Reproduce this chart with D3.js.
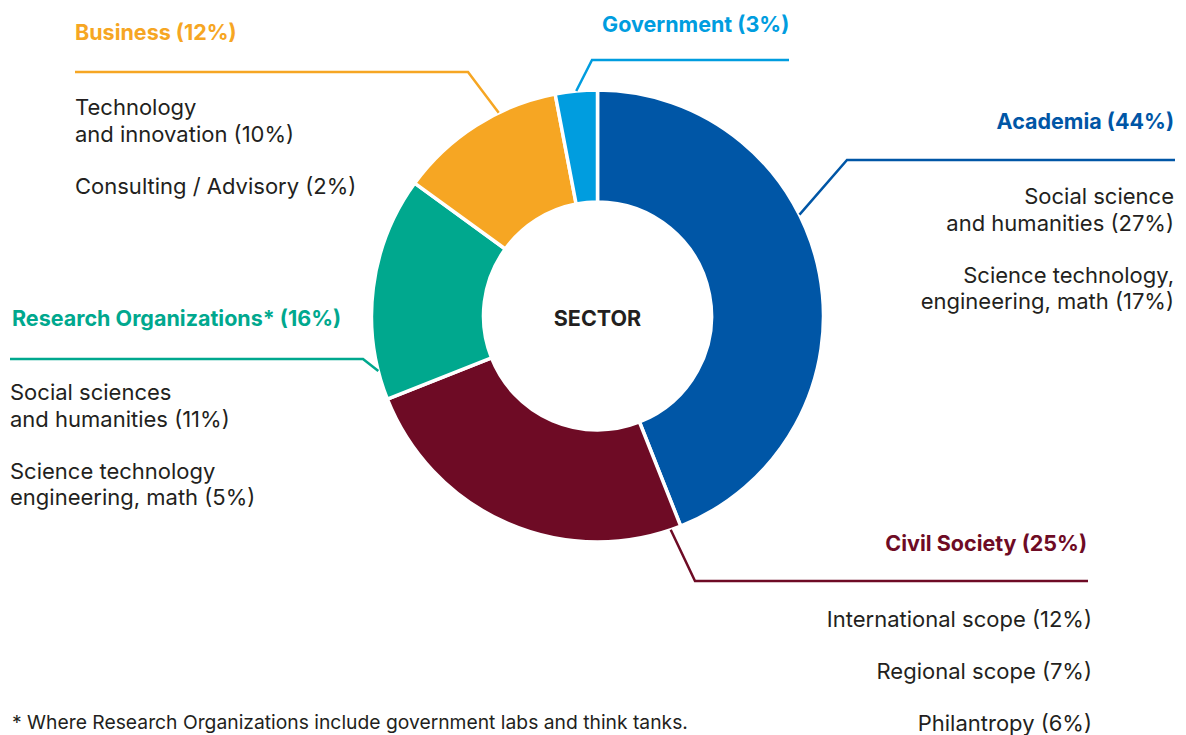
<!DOCTYPE html>
<html>
<head>
<meta charset="utf-8">
<script src="https://cdn.jsdelivr.net/npm/d3@7"></script>
<style>
	body { margin: 0; background: #fff; }
	svg text { font-family: Inter, "Noto Sans", sans-serif; }
</style>
</head>
<body>
<div id="chart"></div>
<script>
// sectors, clockwise from 12 o'clock
const sectors = ['Academia', 'Civil Society', 'Research Organizations*', 'Business', 'Government'];
const shares = [44, 25, 16, 12, 3];
const colors = ['#0056a6', '#6e0b25', '#00a88e', '#f6a623', '#009ddf'];

// sub-categories per sector (lines of text, share)
const academiaSub = [['Social science', 'and humanities (27%)'], ['Science technology,', 'engineering, math (17%)']];
const civilSub = [['International scope (12%)'], ['Regional scope (7%)'], ['Philantropy (6%)']];
const researchSub = [['Social sciences', 'and humanities (11%)'], ['Science technology', 'engineering, math (5%)']];
const businessSub = [['Technology', 'and innovation (10%)'], ['Consulting / Advisory (2%)']];
const governmentSub = [];

const footnote = '* Where Research Organizations include government labs and think tanks.';
const centerLabel = 'SECTOR';

const width = 1186;
const height = 735;
const cx = 597.5;
const cy = 316;
const outerR = 226;
const innerR = 114;
const textColor = '#231f20';

const svg = d3.select('#chart')
	.append('svg')
	.attr('width', width)
	.attr('height', height);

const pie = d3.pie().sort(null).value((d) => d);
const arcs = pie(shares);

const arc = d3.arc()
	.innerRadius(innerR)
	.outerRadius(outerR);

const g = svg.append('g')
	.attr('transform', `translate(${cx},${cy})`);

g.selectAll('path.slice')
	.data(arcs)
	.enter()
	.append('path')
	.attr('class', 'slice')
	.attr('d', arc)
	.attr('fill', (d, i) => colors[i])
	.attr('stroke', '#fff')
	.attr('stroke-width', 3.5)
	.attr('stroke-linejoin', 'round');

g.append('text')
	.attr('text-anchor', 'middle')
	.attr('y', 2)
	.attr('dy', '0.35em')
	.attr('font-size', 21.5)
	.attr('font-weight', 700)
	.attr('font-family', '"Liberation Sans", Arial, sans-serif')
	.attr('fill', textColor)
	.text(centerLabel);

// label blocks: where the title sits, where the leader line bends, what fraction of the slice it points to
const labelLayout = [
	{ sub: academiaSub, anchor: 'end', x: 1174, titleY: 129, lineY: 160, lineX0: 847, lineX1: 1175, subY: 204, frac: 0.4 },
	{ sub: civilSub, anchor: 'end', x: 1087, titleY: 551, lineY: 581, lineX0: 695, lineX1: 1088, subX: 1092, subY: 627, frac: 0.03 },
	{ sub: researchSub, anchor: 'start', x: 12, titleY: 326, lineY: 359, lineX0: 363, lineX1: 10, subX: 10, subY: 400, frac: 0.13 },
	{ sub: businessSub, anchor: 'start', x: 75, titleY: 40, lineY: 72, lineX0: 468, lineX1: 75, subY: 115, frac: 0.65 },
	{ sub: governmentSub, anchor: 'start', x: 602, titleY: 32, lineY: 60, lineX0: 592, lineX1: 789, subY: 0, frac: 0.5 }
];

labelLayout.forEach((lay, i) => {
	const a = arcs[i];
	const ang = a.startAngle + lay.frac * (a.endAngle - a.startAngle);
	const px = cx + outerR * Math.sin(ang);
	const py = cy - outerR * Math.cos(ang);

	svg.append('path')
		.attr('d', d3.line()([[px, py], [lay.lineX0, lay.lineY], [lay.lineX1, lay.lineY]]))
		.attr('fill', 'none')
		.attr('stroke', colors[i])
		.attr('stroke-width', 2.5);

	svg.append('text')
		.attr('x', lay.x)
		.attr('y', lay.titleY)
		.attr('text-anchor', lay.anchor)
		.attr('font-size', 21.5)
		.attr('font-weight', 700)
		.attr('fill', colors[i])
		.text(`${sectors[i]} (${shares[i]}%)`);

	let y = lay.subY;
	lay.sub.forEach((lines) => {
		const t = svg.append('text')
			.attr('text-anchor', lay.anchor)
			.attr('font-size', 22)
			.attr('fill', textColor);
		lines.forEach((line, j) => {
			t.append('tspan')
				.attr('x', lay.subX !== undefined ? lay.subX : lay.x)
				.attr('y', y + j * 26.5)
				.text(line);
		});
		y += (lines.length - 1) * 26.5 + 52;
	});
});

svg.append('text')
	.attr('x', 12)
	.attr('y', 729)
	.attr('font-size', 19.3)
	.attr('font-family', '"Liberation Sans", Arial, sans-serif')
	.attr('fill', textColor)
	.text(footnote);
</script>
</body>
</html>
